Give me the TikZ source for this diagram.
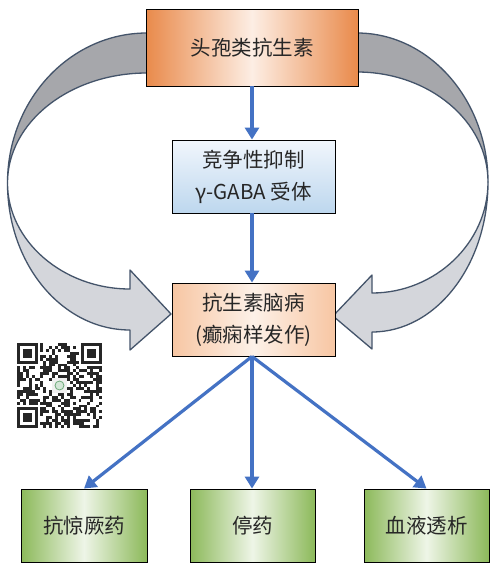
\documentclass[tikz,border=0pt]{standalone}
\usepackage{fontspec}
\setmainfont{Noto Sans CJK SC}
\usetikzlibrary{arrows.meta}
\definecolor{orgdark}{HTML}{E98A4B}
\definecolor{orglight}{HTML}{FDEEE4}
\definecolor{bluetop}{HTML}{F1F6FC}
\definecolor{bluebot}{HTML}{BDD7EE}
\definecolor{peachedge}{HTML}{F7C6A3}
\definecolor{peachmid}{HTML}{FDF1E8}
\definecolor{greenedge}{HTML}{8CB95A}
\definecolor{greenmid}{HTML}{EEF5E7}
\definecolor{txt}{HTML}{262626}
\definecolor{arrblue}{HTML}{4472C4}
\definecolor{banddark}{HTML}{A6A7AB}
\definecolor{bandlight}{HTML}{D4D6DB}
\definecolor{bandline}{HTML}{44546A}
\definecolor{qrgreen}{HTML}{6DAA7A}
\begin{document}
\begin{tikzpicture}[x=1pt,y=-1pt,
  box/.style={draw=black,line width=0.9pt,inner sep=0pt,align=center,
    font=\fontsize{20.5}{32}\selectfont,text=txt},
  orangebox/.style={box,left color=orgdark,right color=orgdark,middle color=orglight},
  bluebox/.style={box,top color=bluetop,bottom color=bluebot},
  peachbox/.style={box,left color=peachedge,right color=peachedge,middle color=peachmid},
  greenbox/.style={box,left color=greenedge,right color=greenedge,middle color=greenmid},
  arr/.style={draw=arrblue,line width=3.2pt,-{Triangle[length=12pt,width=14pt]}},
  banddk/.style={fill=banddark,draw=bandline,line width=1.3pt,line join=round},
  bandlt/.style={fill=bandlight,draw=bandline,line width=1.3pt,line join=round}]
\useasboundingbox (0,0) rectangle (500,570);
\fill[white] (0,0) rectangle (500,570);

% left curved band
\path[bandlt] (7.5,183) .. controls (7.5,264) and (62,330) .. (130,330)
  -- (130,350) -- (171,314) -- (130,270) -- (130,289)
  .. controls (63,289) and (7.5,241) .. (7.5,183) -- cycle;
\path[banddk] (165,33) -- (147,33) .. controls (70,33) and (7.5,100) .. (7.5,183)
  .. controls (7.5,122) and (70,73) .. (147,73) -- (165,73) -- cycle;

% right curved band
\path[bandlt] (488,182) .. controls (488,265) and (436,332) .. (372,332)
  -- (372,349) -- (333,316) -- (372,275) -- (372,293)
  .. controls (435,293) and (488,243) .. (488,182) -- cycle;
\path[banddk] (340,33) -- (357,33) .. controls (429,33) and (488,100) .. (488,182)
  .. controls (488,121) and (429,72) .. (357,72) -- (340,72) -- cycle;

% boxes
\node[orangebox,minimum width=212pt,minimum height=77pt] (top) at (252,47.5) {头孢类抗生素};
\node[bluebox,minimum width=163pt,minimum height=73pt] (mid) at (253.5,176.5) {竞争性抑制\\γ-GABA 受体};
\node[peachbox,minimum width=163pt,minimum height=73pt] (enc) at (253.5,319.5) {抗生素脑病\\(癫痫样发作)};
\node[greenbox,minimum width=126pt,minimum height=73pt] (b1) at (84,525.5) {抗惊厥药};
\node[greenbox,minimum width=125pt,minimum height=73pt] (b2) at (252.5,525.5) {停药};
\node[greenbox,minimum width=125pt,minimum height=73pt] (b3) at (426.5,525.5) {血液透析};

% arrows
\draw[arr] (top.south) -- (top.south |- mid.north);
\draw[arr] (top.south |- mid.south) -- (top.south |- enc.north);
\coordinate (encs) at (top.south |- enc.south);
\draw[arr] (encs) -- (b1.north);
\draw[arr] (encs) -- (encs |- b2.north);
\draw[arr] (encs) -- (b3.north);

% QR code
\begin{scope}[shift={(17,343)}]
  \fill[white] (-2,-2) rectangle (87,87);
  \pgfmathsetseed{4242}
  \foreach \i in {0,...,28}{
    \foreach \j in {0,...,28}{
      \pgfmathtruncatemacro\qrskip{((\i<8)&&(\j<8))||((\i>20)&&(\j<8))||((\i<8)&&(\j>20))||((\i>11)&&(\i<17)&&(\j>11)&&(\j<17))}
      \pgfmathtruncatemacro\qron{rnd<0.5}
      \ifnum\qrskip=0 \ifnum\qron=1
        \fill[black!85] (\i*2.93,\j*2.93) rectangle ++(2.93,2.93);
      \fi\fi
    }
  }
  \foreach \fx/\fy in {0/0,22/0,0/22}{
    \fill[black!85] (\fx*2.93,\fy*2.93) rectangle ++(20.51,20.51);
    \fill[white] (\fx*2.93+2.93,\fy*2.93+2.93) rectangle ++(14.65,14.65);
    \fill[black!85] (\fx*2.93+5.86,\fy*2.93+5.86) rectangle ++(8.79,8.79);
  }
  \fill[black!6] (12*2.93,12*2.93) rectangle ++(14.65,14.65);
  \draw[qrgreen,line width=0.8pt,fill=qrgreen!30] (14.5*2.93,14.5*2.93) circle (4.5);
\end{scope}
\end{tikzpicture}
\end{document}
